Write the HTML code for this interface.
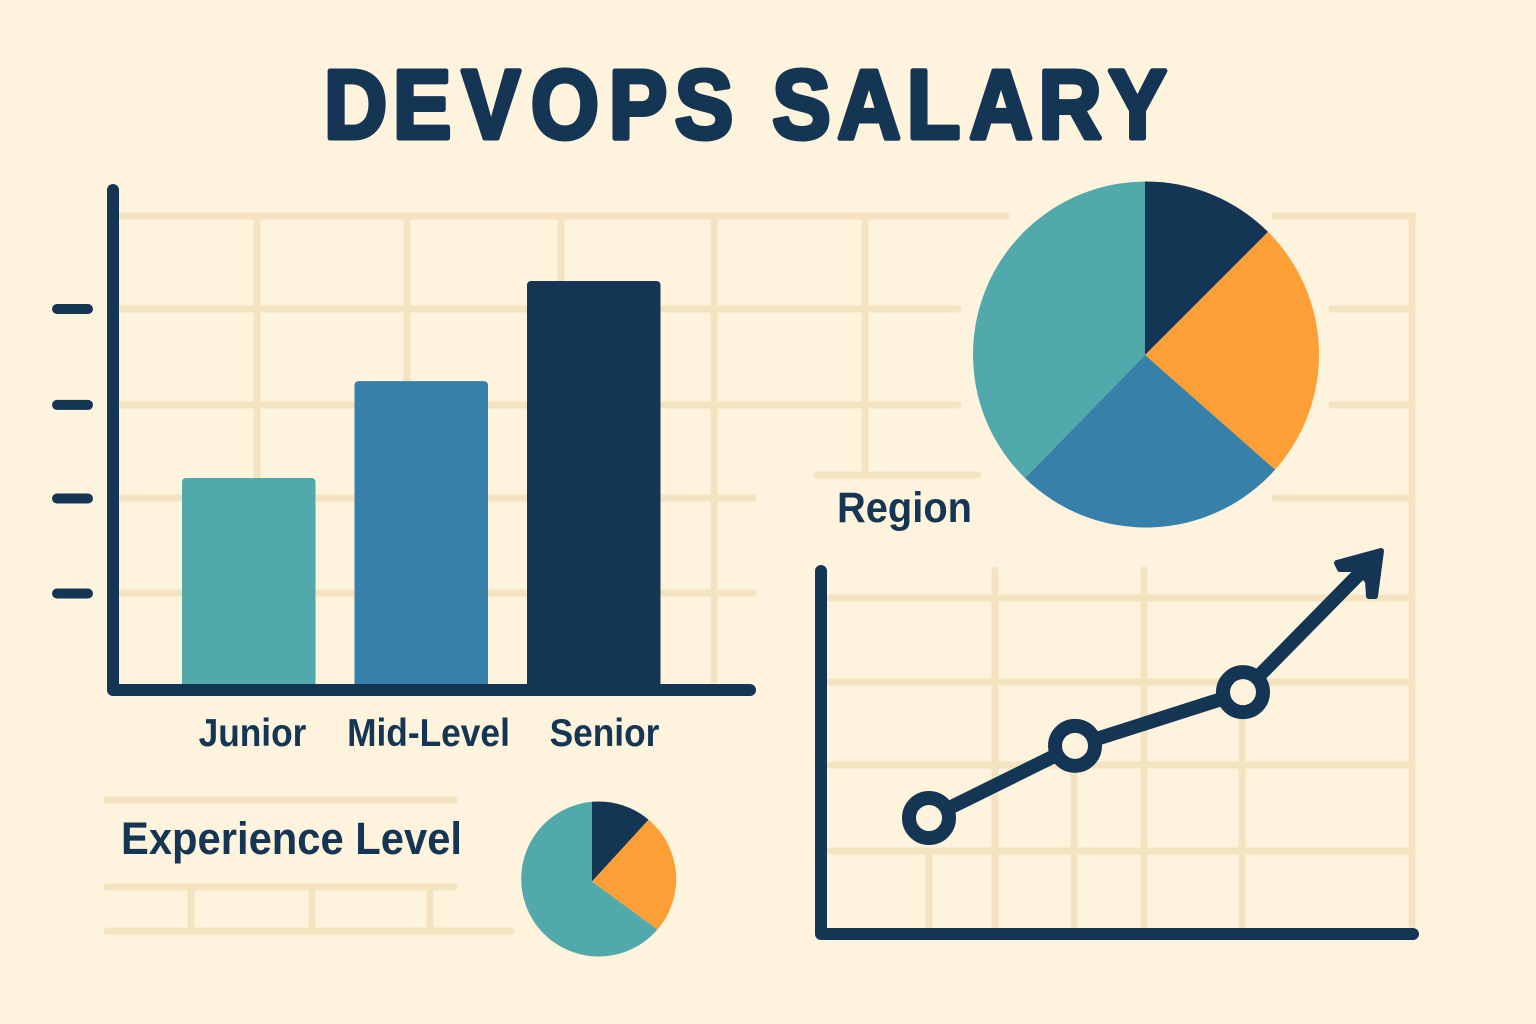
<!DOCTYPE html>
<html lang="en">
<head>
<meta charset="utf-8">
<title>DevOps Salary</title>
<style>
html,body{margin:0;padding:0;background:#fef3dc;}
svg{display:block;}
text{font-family:"Liberation Sans",sans-serif;font-weight:700;fill:#143654;}
</style>
</head>
<body>
<svg id="chart" xmlns="http://www.w3.org/2000/svg" width="1536" height="1024" viewBox="0 0 1536 1024">
  <rect width="1536" height="1024" fill="#fef3dc"/>
  <g stroke="#f4e3c1" stroke-width="7" stroke-linecap="round" fill="none">
    <path d="M120 216H1006M120 309H958M120 405H958M120 498H753M120 593H753M257 216V680M407 216V680M561 216V680M714 216V680M865 216V473"/>
    <path d="M1275 216H1413M1332 309H1408M1332 405H1408M1275 498H1408M817 475H978M1412 216V925"/>
    <path d="M830 598H1408M830 682H1408M830 765H1408M830 851H1408M995 570V928M1144 570V928M929 851V928M1074 770V928M1242 710V928"/>
    <path d="M107 800H454M107 887H454M107 931H511M191 887V931M312 887V931M430 887V931"/>
  </g>
  <text transform="scale(0.9 1)" y="138" font-size="97" stroke="#143654" stroke-width="5" stroke-linejoin="round" x="360 436.6 513.2 590 676.6 749.9 822.2 858.2 930.6 1007.6 1077.2 1153.9 1231.6">DEVOPS SALARY</text>
  <g id="bars"></g>
  <g id="bigPie"></g>
  <g id="smallPie"></g>
  <g id="line"></g>
  <text x="837" y="522" font-size="43" textLength="135" lengthAdjust="spacingAndGlyphs">Region</text>
  <text x="121" y="854" font-size="45" textLength="341" lengthAdjust="spacingAndGlyphs">Experience Level</text>
</svg>
<script>
const barCategories = ["Junior", "Mid-Level", "Senior"];
const barValues = [2.216, 3.236, 4.29];
const barTicks = [1, 2, 2.985, 3.995];
const barColors = ["#52a9ac", "#3680a9", "#143654"];

const regionShares = [12.5, 24, 25.8, 37.7];
const regionColors = ["#143654", "#fb9f36", "#3680a9", "#52a9ac"];

const experienceShares = [11.8, 23.3, 64.9];
const experienceColors = ["#143654", "#fb9f36", "#52a9ac"];

const trendSteps = [0, 0.93, 2];
const trendValues = [1, 1.82, 2.43];
const trendArrowStep = 2.879;
const trendArrowValue = 4.034;

const NS = "http://www.w3.org/2000/svg";
const NAVY = "#143654";
function mk(tag, attrs, parent) {
  const el = document.createElementNS(NS, tag);
  for (const k in attrs) el.setAttribute(k, attrs[k]);
  parent.appendChild(el);
  return el;
}

/* bar chart */
const barY = v => 688.5 - v * 95;
const barX = i => 182 + i * 172.5;
const barsG = document.getElementById("bars");
barTicks.forEach(t => {
  const tick = mk("line", {x1: 57, x2: 88, y1: barY(t), y2: barY(t), stroke: NAVY, "stroke-width": 10, "stroke-linecap": "round"}, barsG);
  
  
});
barValues.forEach((v, i) => {
  const bar = mk("rect", {x: barX(i), y: barY(v), width: 133.5, height: 690 - barY(v), rx: 4, fill: barColors[i]}, barsG);
  
  
  const label = mk("text", {x: 252.5 + i * 176, y: 746, "font-size": 39, "text-anchor": "middle"}, barsG);
  label.textContent = barCategories[i];
  
  
  label.setAttribute("textLength", label.getComputedTextLength() * 0.905);
  label.setAttribute("lengthAdjust", "spacingAndGlyphs");
});
const barAxes = mk("path", {d: "M113 190V690H750", fill: "none", stroke: NAVY, "stroke-width": 12, "stroke-linecap": "round", "stroke-linejoin": "round"}, barsG);



/* pies: slices fan out from an apex that may sit slightly off the circle centre */
function rimPoint(cx, cy, r, ax, ay, angle) {
  const dx = Math.sin(angle), dy = -Math.cos(angle);
  const ox = ax - cx, oy = ay - cy;
  const b = ox * dx + oy * dy;
  const t = -b + Math.sqrt(b * b - (ox * ox + oy * oy) + r * r);
  return [ax + t * dx, ay + t * dy];
}
function drawPie(parent, cx, cy, r, ax, ay, shares, colors, name) {
  const total = shares.reduce((a, b) => a + b, 0);
  let acc = 0;
  shares.forEach((s, i) => {
    const p0 = rimPoint(cx, cy, r, ax, ay, acc / total * 2 * Math.PI);
    acc += s;
    const p1 = rimPoint(cx, cy, r, ax, ay, acc / total * 2 * Math.PI);
    const large = s / total > 0.5 ? 1 : 0;
    const slice = mk("path", {d: `M${ax} ${ay}L${p0[0]} ${p0[1]}A${r} ${r} 0 ${large} 1 ${p1[0]} ${p1[1]}Z`, fill: colors[i]}, parent);
    
    
  });
}
drawPie(document.getElementById("bigPie"), 1146, 354.5, 173, 1145, 355, regionShares, regionColors, "region");
drawPie(document.getElementById("smallPie"), 598.7, 879, 77.5, 592, 881.5, experienceShares, experienceColors, "experience");

/* line chart */
const lineX = s => 929 + s * 157;
const lineY = v => 818 + (1 - v) * 88;
const lineG = document.getElementById("line");
const lineAxes = mk("path", {d: "M821 571V934H1413", fill: "none", stroke: NAVY, "stroke-width": 12, "stroke-linecap": "round", "stroke-linejoin": "round"}, lineG);


const tipX = lineX(trendArrowStep), tipY = lineY(trendArrowValue);
const pts = trendSteps.map((s, i) => [lineX(s), lineY(trendValues[i])]);
const shaft = pts.map(p => p.join(",")).join(" ") + " " + (tipX - 12) + "," + (tipY + 13);
const trend = mk("polyline", {points: shaft, fill: "none", stroke: NAVY, "stroke-width": 14, "stroke-linejoin": "round"}, lineG);


const head = mk("path", {d: `M${tipX} ${tipY}L${tipX - 44} ${tipY + 12}L${tipX - 41} ${tipY + 18}L${tipX - 25} ${tipY + 18}L${tipX - 13} ${tipY + 30}L${tipX - 12} ${tipY + 45}L${tipX - 6} ${tipY + 45}Z`, fill: NAVY, stroke: NAVY, "stroke-width": 6, "stroke-linejoin": "round"}, lineG);


pts.forEach(p => {
  const dot = mk("circle", {cx: p[0], cy: p[1], r: 20, fill: "#fef3dc", stroke: NAVY, "stroke-width": 14}, lineG);
  
  
});
</script>
</body>
</html>
